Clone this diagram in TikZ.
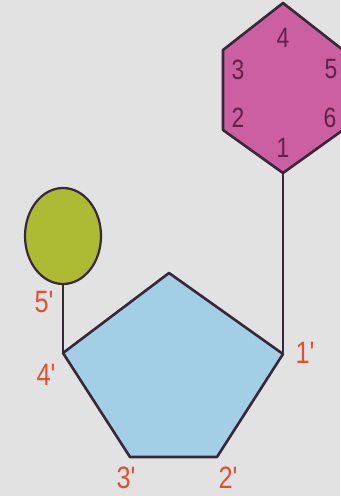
\documentclass[tikz,border=0pt]{standalone}
\usepackage{fontspec}
\setmainfont{Liberation Sans}
\usepackage{tikz}
\usetikzlibrary{shapes.geometric, positioning}

\definecolor{paper}{RGB}{226,226,226}
\definecolor{basecol}{RGB}{203,95,162}
\definecolor{sugarcol}{RGB}{162,206,230}
\definecolor{phoscol}{RGB}{172,186,52}
\definecolor{edgecol}{RGB}{55,40,55}
\definecolor{primecol}{RGB}{222,82,52}
\definecolor{ringnum}{RGB}{95,35,75}

\newcommand{\pr}{\textquotesingle}

\begin{document}
\begin{tikzpicture}[x=1bp, y=-1bp]
    \tikzstyle{ring} = [draw=edgecol, line width=2.6bp, line join=round]
    \tikzstyle{bond} = [draw=edgecol, line width=2bp]
    \tikzstyle{prime} = [text=primecol, font=\fontsize{31}{31}\selectfont, inner sep=0pt, xscale=0.82]
    \tikzstyle{atom} = [text=ringnum, font=\fontsize{28}{28}\selectfont, inner sep=0pt, xscale=0.82]

    \fill [paper] (0,0) rectangle (340,496);
    \useasboundingbox (0,0) rectangle (340,496);

    % base (hexagon)
    \coordinate (h4) at (283,3);
    \coordinate (h3) at (223,50);
    \coordinate (h2) at (223,130);
    \coordinate (h1) at (283,173);
    \coordinate (h6) at (343,130);
    \coordinate (h5) at (343,50);
    \path [ring, fill=basecol] (h4) -- (h3) -- (h2) -- (h1) -- (h6) -- (h5) -- cycle;
    \node [atom] (n4) at (283,38) {4};
    \node [atom] (n3) at (238,70) {3};
    \node [atom] (n5) at (331,69) {5};
    \node [atom] (n2) at (238,118) {2};
    \node [atom] (n6) at (330,118) {6};
    \node [atom] (n1) at (283,148) {1};

    % sugar (pentagon)
    \coordinate (s0) at (169,273);
    \coordinate (s1) at (283,354);
    \coordinate (s2) at (217,457);
    \coordinate (s3) at (130,457);
    \coordinate (s4) at (63,353);
    \path [ring, fill=sugarcol] (s0) -- (s1) -- (s2) -- (s3) -- (s4) -- cycle;

    % phosphate
    \node [ellipse, draw=edgecol, line width=2.2bp, fill=phoscol, minimum width=76bp, minimum height=96bp, inner sep=0pt] (phos) at (63,236) {};

    \path [bond] (h1) -- (s1);
    \path [bond] (phos.south) -- (s4);

    \node [prime] (p5) at (44,302) {5\pr};
    \node [prime] (p4) at (46,375) {4\pr};
    \node [prime] (p1) at (305,353) {1\pr};
    \node [prime] (p3) at (126,478) {3\pr};
    \node [prime] (p2) at (228,478) {2\pr};
\end{tikzpicture}
\end{document}
